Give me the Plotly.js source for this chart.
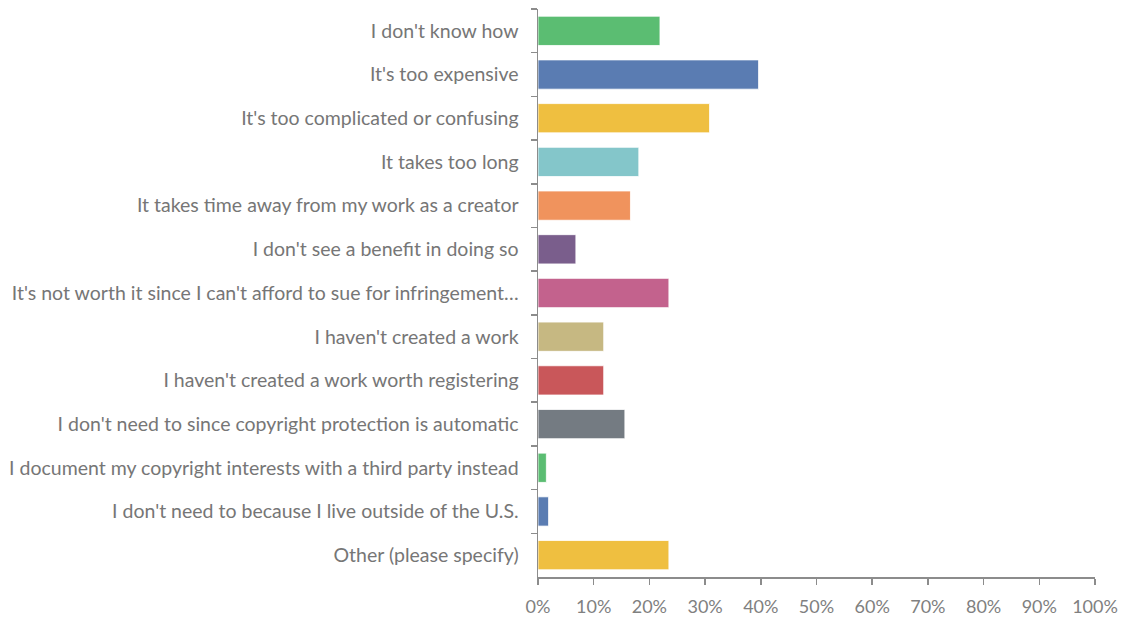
<!DOCTYPE html>
<html><head><meta charset="utf-8">
<script src="https://cdn.plot.ly/plotly-3.0.1.min.js"></script>
<style>html,body{margin:0;padding:0;background:#fff}#chart{width:1125px;height:618px}</style>
</head><body><div id="chart"></div>
<script>
const categories = [
  "I don't know how",
  "It's too expensive",
  "It's too complicated or confusing",
  "It takes too long",
  "It takes time away from my work as a creator",
  "I don't see a benefit in doing so",
  "It's not worth it since I can't afford to sue for infringement…",
  "I haven't created a work",
  "I haven't created a work worth registering",
  "I don't need to since copyright protection is automatic",
  "I document my copyright interests with a third party instead",
  "I don't need to because I live outside of the U.S.",
  "Other (please specify)"
];
const values = [21.9, 39.6, 30.8, 18.1, 16.6, 6.8, 23.5, 11.8, 11.8, 15.6, 1.5, 1.9, 23.5];
const colors = ["#5bbd72","#5a7cb2","#efbf40","#84c6ca","#f0935d","#7a5e8c","#c3628d","#c6b882","#c9575a","#747b82","#5bbd72","#5a7cb2","#efbf40"];
const xTicks = [0,10,20,30,40,50,60,70,80,90,100];
const xTickLabels = xTicks.map(v => v + "%");

const trace = {
  type: "bar",
  orientation: "h",
  y: categories,
  x: values,
  marker: {color: colors, line: {color: "rgba(255,255,255,0.8)", width: 1}},
  hoverinfo: "x+y"
};
const layout = {
  width: 1125, height: 618,
  margin: {l: 538, r: 30, t: 9, b: 41, pad: 0},
  paper_bgcolor: "#fff", plot_bgcolor: "#fff",
  bargap: 0.33,
  showlegend: false,
  font: {family: "Lato, 'Open Sans', sans-serif", color: "#7f7f7f", size: 17},
  xaxis: {
    range: [0, 100], tickvals: xTicks, ticktext: xTickLabels,
    showgrid: false, zeroline: false, showline: true, linecolor: "#8c8c8c", linewidth: 1.5,
    ticks: "outside", ticklen: 6, tickcolor: "#8c8c8c", tickwidth: 1.5,
    ticklabelstandoff: 7,
    tickfont: {size: 18, color: "#808080"}, fixedrange: true
  },
  yaxis: {
    type: "category", autorange: "reversed",
    showgrid: false, zeroline: false, showline: true, linecolor: "#8c8c8c", linewidth: 1.5,
    ticks: "outside", ticklen: 6, tickcolor: "#8c8c8c", tickwidth: 1.5, tickson: "boundaries",
    ticklabelstandoff: 14,
    tickfont: {size: 19.5, color: "#767676"}, fixedrange: true
  }
};
Plotly.newPlot("chart", [trace], layout, {displayModeBar: false, staticPlot: true});
</script></body></html>
